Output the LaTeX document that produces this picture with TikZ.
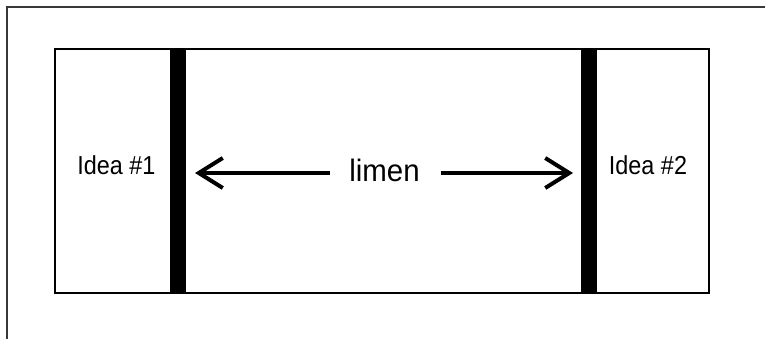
\documentclass[tikz,border=0pt]{standalone}
\usepackage{fontspec}
\setmainfont{Liberation Sans}
\newfontfamily\ideafont[FakeStretch=0.9]{Liberation Sans}
\newfontfamily\limenfont[FakeStretch=0.95]{Liberation Sans}
\usetikzlibrary{arrows.meta}
\begin{document}
\begin{tikzpicture}[x=1pt,y=-1pt,
  frameline/.style={draw=black!78, line width=1.4pt},
  mainbox/.style={draw=black, line width=2.6pt, minimum width=654pt, minimum height=244pt, inner sep=0pt, outer sep=0pt},
  bar/.style={fill=black, draw=none, minimum width=16pt, minimum height=244pt, inner sep=0pt, outer sep=0pt},
  idealabel/.style={font=\ideafont\fontsize{26}{30}\selectfont, inner sep=0pt, anchor=base},
  limenlabel/.style={font=\limenfont\fontsize{31}{36}\selectfont, inner sep=0pt, anchor=base},
  bigarrow/.style={line width=4pt, -{Straight Barb[length=24pt,width=30pt,line width=4pt]}}
]
\useasboundingbox (0,0) rectangle (765,339);
\fill[white] (0,0) rectangle (765,339);
\draw[frameline] (7,339) -- (7,7) -- (765,7);
\node[mainbox] (box) at (382,171) {};
\node[bar] (barL) at (178,171) {};
\node[bar] (barR) at (588.5,171) {};
\node[idealabel] (idea1) at (116.5,175) {Idea \#1};
\node[idealabel] (idea2) at (648,175) {Idea \#2};
\node[limenlabel] (limen) at (384.5,182) {limen};
\coordinate (startL) at (330,173);
\coordinate (startR) at (441,173);
\coordinate (tipL) at (195,173);
\coordinate (tipR) at (573,173);
\draw[bigarrow] (startL) -- (tipL);
\draw[bigarrow] (startR) -- (tipR);
\end{tikzpicture}
\end{document}
